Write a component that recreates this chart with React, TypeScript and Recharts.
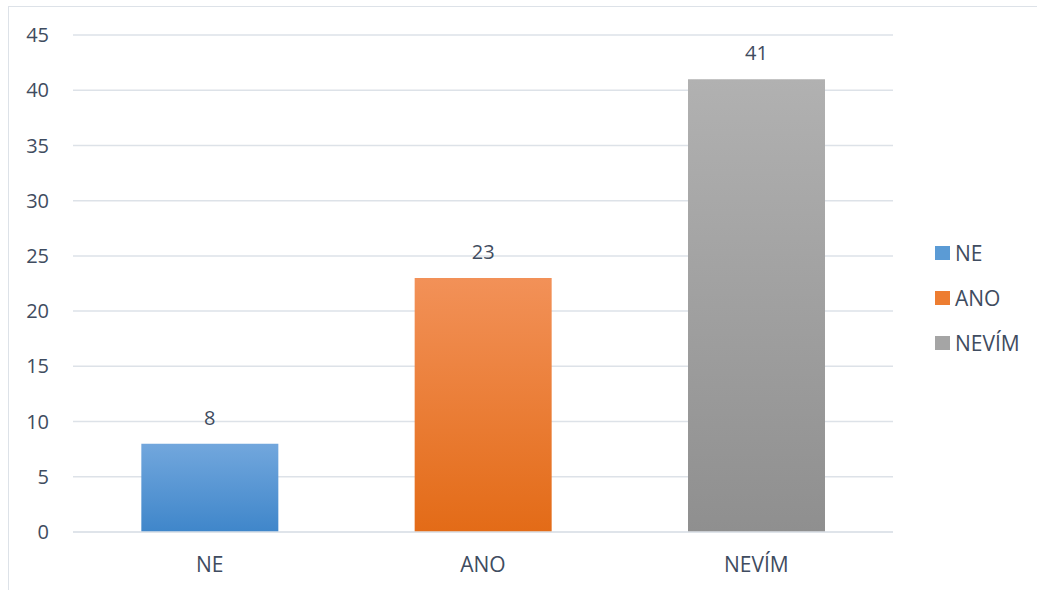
import React from "react";
import { BarChart, Bar, XAxis, YAxis, CartesianGrid, Cell, LabelList, Legend } from "recharts";

const categories = ["NE", "ANO", "NEVÍM"];
const values = [8, 23, 41];
const yTicks = [0, 5, 10, 15, 20, 25, 30, 35, 40, 45];

const gradients = [
  { id: "gNE", top: "#72a7dd", bottom: "#3f86ca", swatch: "#5b9bd5" },
  { id: "gANO", top: "#f29158", bottom: "#e36b17", swatch: "#ed7d31" },
  { id: "gNEV", top: "#b1b1b1", bottom: "#8f8f8f", swatch: "#a5a5a5" },
];

const data = categories.map((name, i) => ({ name, value: values[i] }));

const TEXT = "#3f4c60";
const FONT = "'Open Sans', sans-serif";

const LegendContent = () => (
  <div style={{ width: 120, height: 135, fontFamily: FONT, fontSize: 21, color: TEXT }}>
    {categories.map((c, i) => (
      <div
        key={c}
        style={{ height: 45, display: "flex", alignItems: "center", paddingLeft: 42, whiteSpace: "nowrap" }}
      >
        <div
          style={{ width: 15, height: 14, flexShrink: 0, background: gradients[i].swatch, marginRight: 5 }}
        />
        <span style={{ lineHeight: "21px" }}>{c}</span>
      </div>
    ))}
  </div>
);

export default function App() {
  return (
    <div
      style={{
        position: "absolute",
        left: 8,
        top: 6,
        width: 1029,
        height: 584,
        borderLeft: "1px solid #dde2e8",
        borderTop: "1px solid #dde2e8",
        background: "#fff",
        overflow: "hidden",
      }}
    >
      <BarChart
        width={1029}
        height={582}
        data={data}
        margin={{ top: 28, right: 25, bottom: 0, left: 14 }}
        barCategoryGap="25%"
      >
        <defs>
          {gradients.map((g) => (
            <linearGradient key={g.id} id={g.id} x1="0" y1="0" x2="0" y2="1">
              <stop offset="0%" stopColor={g.top} />
              <stop offset="100%" stopColor={g.bottom} />
            </linearGradient>
          ))}
        </defs>
        <CartesianGrid vertical={false} stroke="#dde2e8" strokeWidth={1.5} />
        <XAxis
          dataKey="name"
          axisLine={{ stroke: "#dde2e8", strokeWidth: 1.5 }}
          tickLine={false}
          tickSize={0}
          tickMargin={25}
          height={57}
          tick={{ fill: TEXT, fontSize: 21, fontFamily: FONT }}
        />
        <YAxis
          domain={[0, 45]}
          ticks={yTicks}
          axisLine={false}
          tickLine={false}
          tickSize={0}
          tickMargin={24}
          width={50}
          tick={{ fill: TEXT, fontSize: 20, fontFamily: FONT }}
        />
        <Legend
          layout="vertical"
          align="right"
          verticalAlign="middle"
          content={<LegendContent />}
          wrapperStyle={{ width: 120 }}
        />
        <Bar dataKey="value" isAnimationActive={false}>
          {data.map((d, i) => (
            <Cell key={d.name} fill={`url(#${gradients[i].id})`} />
          ))}
          <LabelList
            dataKey="value"
            position="top"
            offset={19}
            fill={TEXT}
            fontSize={20}
            fontFamily={FONT}
          />
        </Bar>
      </BarChart>
    </div>
  );
}
